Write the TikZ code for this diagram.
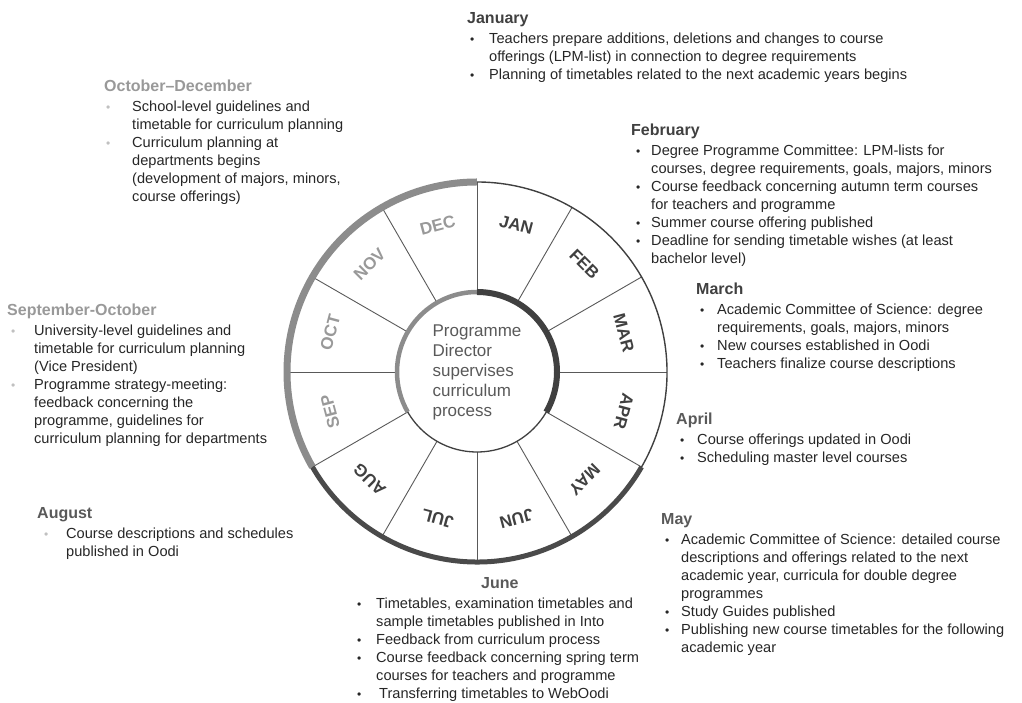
\documentclass[tikz,border=0pt]{standalone}
\usepackage{fontspec}
\setmainfont{Liberation Sans}
\usepackage{array}
\definecolor{dk}{HTML}{404040}
\definecolor{md}{HTML}{595959}
\definecolor{lt}{HTML}{999999}
\definecolor{arcgray}{HTML}{8C8C8C}
\definecolor{arcdark}{HTML}{4A4A4A}
\definecolor{txt}{HTML}{262626}
\definecolor{bullt}{HTML}{C0C0C0}
\newcommand\bodyfont{\fontsize{14.6}{18}\selectfont}
\newcommand\ttl[2]{\multicolumn{2}{@{}l@{}}{\fontsize{16}{18}\selectfont\bfseries\color{#1}#2}\\[2pt]}
\newcommand\bu[3]{\makebox[#2pt][l]{\hspace{#1pt}{\color{#3}\fontsize{12}{12}\selectfont •}}}
\tikzset{
  blk/.style={anchor=base west, inner sep=0pt, text=txt, font=\bodyfont},
  spoke/.style={draw=md, line width=0.9pt},
  outerthin/.style={draw=dk, line width=1.4pt},
  arcg/.style={draw=arcgray, line width=7pt},
  arcd/.style={draw=arcdark, line width=5pt},
  arcgin/.style={draw=arcgray, line width=4.5pt},
  arcdin/.style={draw=dk, line width=6pt},
  monthlbl/.style={font=\fontsize{17}{17}\selectfont\bfseries, inner sep=0pt},
  centre/.style={circle, draw=dk, line width=1.3pt, minimum size=160pt, inner sep=0pt,
    align=left, text=md, font=\fontsize{17}{20}\selectfont}
}
\begin{document}
\begin{tikzpicture}[x=1pt,y=1pt]
\useasboundingbox (0,0) rectangle (1022,703);
\coordinate (C) at (477,331);
% spokes
\foreach \a in {90,60,...,-240}{
  \draw[spoke] ([shift={(\a:80pt)}]C) -- ([shift={(\a:190pt)}]C);
}
% outer ring
\draw[outerthin] ([shift={(-30:190pt)}]C) arc[start angle=-30, end angle=90, radius=190pt];
\draw[arcg] ([shift={(90:190pt)}]C) arc[start angle=90, end angle=210, radius=190pt];
\draw[arcd] ([shift={(210:190pt)}]C) arc[start angle=210, end angle=330, radius=190pt];
% centre
\node[centre] (dir) at (C) {Programme\\Director\\supervises\\curriculum\\process};
\draw[arcgin] ([shift={(90:80pt)}]C) arc[start angle=90, end angle=210, radius=80pt];
\draw[arcdin] ([shift={(90:80pt)}]C) arc[start angle=90, end angle=-30, radius=80pt];
% month labels
\foreach \a/\lab/\col in {75/JAN/dk,45/FEB/dk,15/MAR/dk,-15/APR/dk,-45/MAY/dk,-75/JUN/dk,-105/JUL/dk,-135/AUG/dk,-165/SEP/lt,165/OCT/lt,135/NOV/lt,105/DEC/lt}{
  \node[monthlbl, text=\col, rotate=\a-90] (m\lab) at ([shift={(\a:152pt)}]C) {\lab};
}
% text blocks
\node[blk] (jan) at (467,679) {\begin{tabular}[t]{@{}l@{}l@{}}
\ttl{dk}{January}
\bu{3}{22}{txt} & Teachers prepare additions, deletions and changes to course\\
 & offerings (LPM-list) in connection to degree requirements\\
\bu{3}{22}{txt} & Planning of timetables related to the next academic years begins
\end{tabular}};
\node[blk] (feb) at (631,567) {\begin{tabular}[t]{@{}l@{}l@{}}
\ttl{dk}{February}
\bu{5}{20}{txt} & Degree Programme Committee: LPM-lists for\\
 & courses, degree requirements, goals, majors, minors\\
\bu{5}{20}{txt} & Course feedback concerning autumn term courses\\
 & for teachers and programme\\
\bu{5}{20}{txt} & Summer course offering published\\
\bu{5}{20}{txt} & Deadline for sending timetable wishes (at least\\
 & bachelor level)
\end{tabular}};
\node[blk] (mar) at (696,408) {\begin{tabular}[t]{@{}l@{}l@{}}
\ttl{dk}{March}
\bu{4}{21}{txt} & Academic Committee of Science: degree\\
 & requirements, goals, majors, minors\\
\bu{4}{21}{txt} & New courses established in Oodi\\
\bu{4}{21}{txt} & Teachers finalize course descriptions
\end{tabular}};
\node[blk] (apr) at (676,278) {\begin{tabular}[t]{@{}l@{}l@{}}
\ttl{md}{April}
\bu{4}{21}{txt} & Course offerings updated in Oodi\\
\bu{4}{21}{txt} & Scheduling master level courses
\end{tabular}};
\node[blk] (may) at (661,178) {\begin{tabular}[t]{@{}l@{}l@{}}
\ttl{md}{May}
\bu{4}{20}{txt} & Academic Committee of Science: detailed course\\
 & descriptions and offerings related to the next\\
 & academic year, curricula for double degree\\
 & programmes\\
\bu{4}{20}{txt} & Study Guides published\\
\bu{4}{20}{txt} & Publishing new course timetables for the following\\
 & academic year
\end{tabular}};
\node[blk] (jun) at (354,114) {\begin{tabular}[t]{@{}l@{}l@{}}
\ttl{md}{\hspace{127pt}June}
\bu{3}{22}{txt} & Timetables, examination timetables and\\
 & sample timetables published in Into\\
\bu{3}{22}{txt} & Feedback from curriculum process\\
\bu{3}{22}{txt} & Course feedback concerning spring term\\
 & courses for teachers and programme\\
\bu{3}{22}{txt} & \hspace{3pt}Transferring timetables to WebOodi
\end{tabular}};
\node[blk] (aug) at (37,184) {\begin{tabular}[t]{@{}l@{}l@{}}
\ttl{md}{August}
\bu{7}{29}{bullt} & Course descriptions and schedules\\
 & published in Oodi
\end{tabular}};
\node[blk] (sep) at (7,387) {\begin{tabular}[t]{@{}l@{}l@{}}
\ttl{lt}{September-October}
\bu{4}{27}{bullt} & University-level guidelines and\\
 & timetable for curriculum planning\\
 & (Vice President)\\
\bu{4}{27}{bullt} & Programme strategy-meeting:\\
 & feedback concerning the\\
 & programme, guidelines for\\
 & curriculum planning for departments
\end{tabular}};
\node[blk] (octdec) at (104,611) {\begin{tabular}[t]{@{}l@{}l@{}}
\ttl{lt}{October–December}
\bu{2}{28}{bullt} & School-level guidelines and\\
 & timetable for curriculum planning\\
\bu{2}{28}{bullt} & Curriculum planning at\\
 & departments begins\\
 & (development of majors, minors,\\
 & course offerings)
\end{tabular}};
\end{tikzpicture}
\end{document}
